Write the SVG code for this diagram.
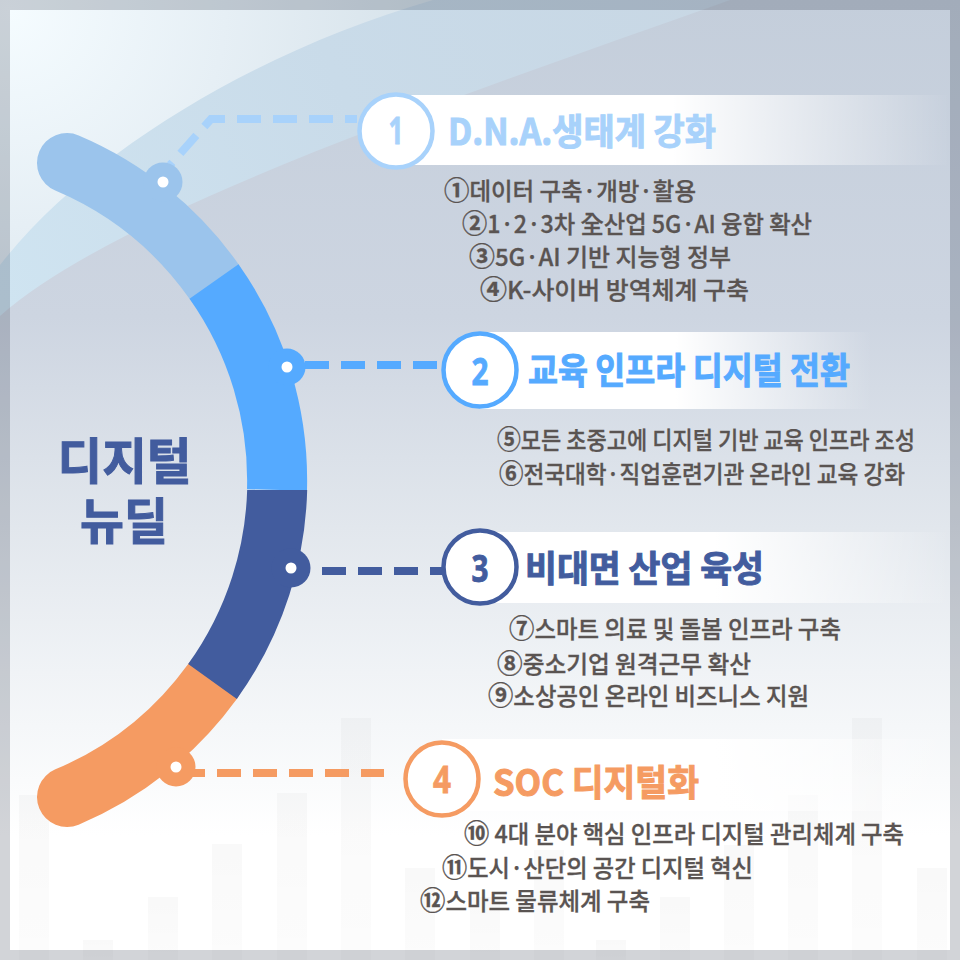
<svg xmlns="http://www.w3.org/2000/svg" width="960" height="960" viewBox="0 0 960 960">
<style>
text{font-family:"Noto Sans CJK KR","Noto Sans",sans-serif}
.item{font-size:24px;font-weight:500;fill:#5a5452;stroke:#5a5452;stroke-width:.3}
.c{font-size:26px;font-weight:700}
.head{font-size:36px;font-weight:700;stroke-width:1}
.num{font-size:37px;font-weight:700;text-anchor:middle;stroke-width:.8;font-family:"Noto Sans","Noto Sans CJK KR",sans-serif}
.seg{fill:none;stroke-width:60}
.dash{fill:none;stroke-dasharray:24 12;stroke-width:8}
.ring{fill:#fff;stroke-width:4.5}
.dot{fill:#fff}
.title{font-size:49px;font-weight:700;fill:#425c9e;stroke:#425c9e;stroke-width:1;text-anchor:middle}
</style>
<defs>
<linearGradient id="bg" x1="0" y1="0" x2="0" y2="1">
<stop offset="0" stop-color="#c4cedb"/><stop offset=".33" stop-color="#cdd5e1"/><stop offset=".55" stop-color="#e2e7ed"/><stop offset=".7" stop-color="#f0f3f6"/><stop offset=".87" stop-color="#fff"/>
</linearGradient>
<linearGradient id="w2" gradientUnits="userSpaceOnUse" x1="0" y1="300" x2="730" y2="0">
<stop offset="0" stop-color="#cfe4f1"/><stop offset=".5" stop-color="#c9dbe9"/><stop offset="1" stop-color="#c8d7e4"/>
</linearGradient>
<radialGradient id="w1" gradientUnits="userSpaceOnUse" cx="10" cy="10" r="430">
<stop offset="0" stop-color="#f5fcff"/><stop offset=".5" stop-color="#e6eff5"/><stop offset="1" stop-color="#d6e2ea"/>
</radialGradient>
<linearGradient id="bar" x1="0" y1="0" x2="0" y2="1">
<stop offset="0" stop-color="#000" stop-opacity=".025"/><stop offset="1" stop-color="#000" stop-opacity=".012"/>
</linearGradient>
<linearGradient id="fade1" gradientUnits="userSpaceOnUse" x1="396" y1="0" x2="950" y2="0">
<stop offset=".5" stop-color="#fff"/><stop offset="1" stop-color="#fff" stop-opacity="0"/>
</linearGradient>
<linearGradient id="fade2" gradientUnits="userSpaceOnUse" x1="480" y1="0" x2="872" y2="0">
<stop offset=".5" stop-color="#fff"/><stop offset="1" stop-color="#fff" stop-opacity="0"/>
</linearGradient>
<linearGradient id="fade3" gradientUnits="userSpaceOnUse" x1="480" y1="0" x2="950" y2="0">
<stop offset=".5" stop-color="#fff"/><stop offset="1" stop-color="#fff" stop-opacity="0"/>
</linearGradient>
<clipPath id="below490"><rect x="120" y="490" width="220" height="260"/></clipPath>
</defs>
<g id="background">
<rect width="960" height="960" fill="url(#bg)"/>
<path d="M0 316C120 210 450 100 730 0H0Z" fill="url(#w2)"/>
<path d="M0 265C90 150 260 50 433 0H0Z" fill="url(#w1)"/>
<g fill="url(#bar)">
<rect x="19" y="795" width="30" height="165"/><rect x="83" y="940" width="30" height="20"/><rect x="148" y="897" width="30" height="63"/><rect x="212" y="844" width="30" height="116"/><rect x="277" y="793" width="30" height="167"/><rect x="341" y="718" width="30" height="242"/><rect x="405" y="868" width="30" height="92"/><rect x="470" y="897" width="30" height="63"/><rect x="534" y="850" width="30" height="110"/><rect x="596" y="940" width="30" height="20"/><rect x="660" y="897" width="30" height="63"/><rect x="724" y="845" width="30" height="115"/><rect x="788" y="795" width="30" height="165"/><rect x="852" y="718" width="30" height="242"/><rect x="917" y="868" width="30" height="92"/>
</g>
<rect x="5" y="5" width="950" height="950" fill="none" stroke="#101830" stroke-opacity=".19" stroke-width="10"/>
</g>
<g id="bands">
<rect x="396" y="95" width="554" height="70" fill="url(#fade1)"/>
<rect x="480" y="332" width="392" height="77" fill="url(#fade2)"/>
<rect x="480" y="532" width="470" height="71" fill="url(#fade3)"/>
<rect x="442" y="739" width="508" height="72" fill="url(#fade3)"/>
</g>
<g id="connectors">
<path class="dash" stroke="#a8d2fb" d="M357 119H211L170 165" stroke-dashoffset="12"/>
<path class="dash" stroke="#55aaff" d="M305 365H441"/>
<path class="dash" stroke="#425c9e" d="M322 571H444"/>
<path class="dash" stroke="#f59b62" d="M181 773H384"/>
</g>
<g id="arc">
<path class="seg" stroke="#9bc4ec" stroke-linecap="round" d="M67 163A344.3 344.3 0 0 1 214 281.5"/>
<path class="seg" stroke="#f59b62" stroke-linecap="round" d="M212.5 681.5A344.3 344.3 0 0 1 67 797"/>
<path class="seg" stroke="#55aaff" d="M214 281.5A344.3 344.3 0 0 1 277 490"/>
<path class="seg" stroke="#425c9e" clip-path="url(#below490)" d="M277.300 480A344.300 344.300 0 0 1 212.500 681.500"/>
</g>
<g id="title">
<text class="title" x="124.500" y="479" textLength="134" lengthAdjust="spacingAndGlyphs">디지털</text>
<text class="title" x="124" y="539" textLength="88" lengthAdjust="spacingAndGlyphs">뉴딜</text>
</g>
<g id="node1">
<circle cx="163" cy="182" r="19.500" fill="#9bc4ec"/><circle class="dot" cx="163" cy="182" r="5.500"/>
<circle class="ring" stroke="#a8d2fb" cx="396" cy="131" r="36.500"/>
<text class="num" x="396" y="144" fill="#a8d2fb" stroke="#a8d2fb" textLength="15" lengthAdjust="spacingAndGlyphs">1</text>
<text class="head" x="448" y="145" fill="#a8d2fb" stroke="#a8d2fb" textLength="268" lengthAdjust="spacingAndGlyphs">D.N.A.생태계 강화</text>
<text class="item" x="444" y="200" textLength="252" lengthAdjust="spacingAndGlyphs"><tspan class="c">①</tspan>데이터 구축·개방·활용</text>
<text class="item" x="462" y="233" textLength="350" lengthAdjust="spacingAndGlyphs"><tspan class="c">②</tspan>1·2·3차 全산업 5G·AI 융합 확산</text>
<text class="item" x="469" y="266" textLength="262" lengthAdjust="spacingAndGlyphs"><tspan class="c">③</tspan>5G·AI 기반 지능형 정부</text>
<text class="item" x="480" y="299" textLength="269" lengthAdjust="spacingAndGlyphs"><tspan class="c">④</tspan>K-사이버 방역체계 구축</text>
</g>
<g id="node2">
<circle cx="287" cy="367" r="18.500" fill="#55aaff"/><circle class="dot" cx="287" cy="367" r="5.500"/>
<circle class="ring" stroke="#55aaff" cx="480" cy="370" r="36.500"/>
<text class="num" x="480" y="385" fill="#55aaff" stroke="#55aaff" textLength="17" lengthAdjust="spacingAndGlyphs">2</text>
<text class="head" x="528" y="384" fill="#55aaff" stroke="#55aaff" textLength="322" lengthAdjust="spacingAndGlyphs">교육 인프라 디지털 전환</text>
<text class="item" x="497" y="449" textLength="418" lengthAdjust="spacingAndGlyphs"><tspan class="c">⑤</tspan>모든 초중고에 디지털 기반 교육 인프라 조성</text>
<text class="item" x="499" y="483" textLength="406" lengthAdjust="spacingAndGlyphs"><tspan class="c">⑥</tspan>전국대학·직업훈련기관 온라인 교육 강화</text>
</g>
<g id="node3">
<circle cx="291" cy="568" r="19.500" fill="#425c9e"/><circle class="dot" cx="291" cy="568" r="5.500"/>
<circle class="ring" stroke="#425c9e" cx="480" cy="567" r="36.500"/>
<text class="num" x="480" y="582" fill="#425c9e" stroke="#425c9e" textLength="17" lengthAdjust="spacingAndGlyphs">3</text>
<text class="head" x="525" y="582" fill="#425c9e" stroke="#425c9e" textLength="239" lengthAdjust="spacingAndGlyphs">비대면 산업 육성</text>
<text class="item" x="509" y="638" textLength="332" lengthAdjust="spacingAndGlyphs"><tspan class="c">⑦</tspan>스마트 의료 및 돌봄 인프라 구축</text>
<text class="item" x="497" y="673" textLength="254" lengthAdjust="spacingAndGlyphs"><tspan class="c">⑧</tspan>중소기업 원격근무 확산</text>
<text class="item" x="488" y="705" textLength="321" lengthAdjust="spacingAndGlyphs"><tspan class="c">⑨</tspan>소상공인 온라인 비즈니스 지원</text>
</g>
<g id="node4">
<circle cx="176" cy="767" r="19.500" fill="#f59b62"/><circle class="dot" cx="176" cy="767" r="5.500"/>
<circle class="ring" stroke="#f59b62" cx="442" cy="779" r="36.500"/>
<text class="num" x="442" y="793" fill="#f59b62" stroke="#f59b62" textLength="18" lengthAdjust="spacingAndGlyphs">4</text>
<text class="head" x="493" y="796" fill="#f59b62" stroke="#f59b62" textLength="206" lengthAdjust="spacingAndGlyphs">SOC 디지털화</text>
<text class="item" x="464" y="843" textLength="440" lengthAdjust="spacingAndGlyphs"><tspan class="c">⑩</tspan> 4대 분야 핵심 인프라 디지털 관리체계 구축</text>
<text class="item" x="442" y="877" textLength="311" lengthAdjust="spacingAndGlyphs"><tspan class="c">⑪</tspan>도시·산단의 공간 디지털 혁신</text>
<text class="item" x="420" y="910" textLength="230" lengthAdjust="spacingAndGlyphs"><tspan class="c">⑫</tspan>스마트 물류체계 구축</text>
</g>
</svg>
